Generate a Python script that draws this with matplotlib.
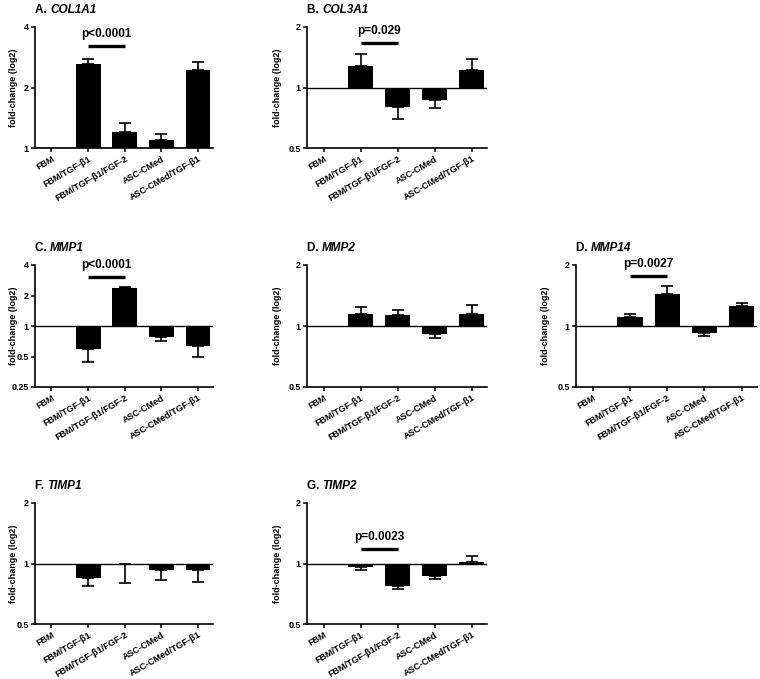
import matplotlib
matplotlib.use("Agg")
import matplotlib.pyplot as plt
from matplotlib.ticker import FixedLocator, FixedFormatter, NullLocator

plt.rcParams['font.family'] = ['Liberation Sans', 'DejaVu Sans']
plt.rcParams['font.weight'] = 'bold'

categories = ["FBM", "FBM/TGF-β1", "FBM/TGF-β1/FGF-2", "ASC-CMed", "ASC-CMed/TGF-β1"]

# mean fold-change values (linear, plotted on log2 axis)
col1a1 = [1.0, 2.63, 1.20, 1.09, 2.45]
col1a1_err = [1.0, 2.77, 1.33, 1.17, 2.69]
col3a1 = [1.0, 1.28, 0.80, 0.87, 1.22]
col3a1_err = [1.0, 1.46, 0.70, 0.79, 1.38]
mmp1 = [1.0, 0.59, 2.36, 0.78, 0.63]
mmp1_err = [1.0, 0.44, 2.40, 0.71, 0.50]
mmp2 = [1.0, 1.15, 1.13, 0.91, 1.15]
mmp2_err = [1.0, 1.24, 1.20, 0.87, 1.27]
mmp14 = [1.0, 1.11, 1.44, 0.92, 1.26]
mmp14_err = [1.0, 1.15, 1.57, 0.89, 1.30]
timp1 = [1.0, 0.85, 0.99, 0.93, 0.93]
timp1_err = [1.0, 0.77, 0.80, 0.83, 0.81]
timp2 = [1.0, 0.96, 0.77, 0.865, 1.02]
timp2_err = [1.0, 0.93, 0.75, 0.84, 1.09]

panels = [
    # letter, gene, values, err ends, yticks, ytick labels, p-text, p-line y
    ("A.", "COL1A1", col1a1, col1a1_err, [1, 2, 4], ["1", "2", "4"], "p<0.0001", 3.23),
    ("B.", "COL3A1", col3a1, col3a1_err, [0.5, 1, 2], ["0.5", "1", "2"], "p=0.029", 1.67),
    ("C.", "MMP1", mmp1, mmp1_err, [0.25, 0.5, 1, 2, 4], ["0.25", "0.5", "1", "2", "4"], "p<0.0001", 3.08),
    ("D.", "MMP2", mmp2, mmp2_err, [0.5, 1, 2], ["0.5", "1", "2"], None, None),
    ("D.", "MMP14", mmp14, mmp14_err, [0.5, 1, 2], ["0.5", "1", "2"], "p=0.0027", 1.77),
    ("F.", "TIMP1", timp1, timp1_err, [0.5, 1, 2], ["0.5", "1", "2"], None, None),
    ("G.", "TIMP2", timp2, timp2_err, [0.5, 1, 2], ["0.5", "1", "2"], "p=0.0023", 1.18),
]

W, H = 760, 679
boxes = [
    (35, 27, 213, 148), (307, 27, 487, 148),
    (35, 265, 213, 387), (307, 265, 487, 387), (576, 265, 757, 387),
    (35, 503, 213, 624), (307, 503, 487, 624),
]
# horizontal pixel offset of y-label (right edge) from the y-axis
label_off = [17.5, 25.5, 17.5, 25.5, 25.5, 17.5, 25.5]

fig = plt.figure(figsize=(7.6, 6.79), dpi=100)
fig.patch.set_facecolor("white")

for (letter, gene, vals, errs, yt, ytl, ptxt, py), (x0, y0, x1, y1), lo in zip(panels, boxes, label_off):
    ax = fig.add_axes([x0 / W, 1 - y1 / H, (x1 - x0) / W, (y1 - y0) / H])
    x = list(range(len(categories)))
    heights = [v - 1.0 for v in vals]
    ax.set_yscale("log", base=2)
    ax.bar(x, heights, bottom=1.0, width=0.68, color="black", edgecolor="none", zorder=2)
    for xi, v, e in zip(x, vals, errs):
        if abs(e - v) < 1e-9:
            continue
        if e > v:
            yerr = [[0], [e - v]]
        else:
            yerr = [[v - e], [0]]
        ax.errorbar([xi], [v], yerr=yerr, fmt="none", ecolor="black",
                    elinewidth=1.2, capsize=4.5, capthick=1.2, zorder=3)
    ax.axhline(1.0, color="black", lw=1.0, zorder=4)
    ax.set_xlim(-0.45, 4.41)
    ax.set_ylim(yt[0], yt[-1])
    ax.yaxis.set_major_locator(FixedLocator(yt))
    ax.yaxis.set_major_formatter(FixedFormatter(ytl))
    ax.yaxis.set_minor_locator(NullLocator())
    ax.set_xticks(x)
    ax.set_xticklabels(categories, rotation=30, ha="right", rotation_mode="anchor",
                       fontsize=6.5, fontweight="bold")
    for lab in ax.get_yticklabels():
        lab.set_fontsize(6.5)
        lab.set_fontweight("bold")
    ax.tick_params(axis="both", direction="out", length=3, width=1.1, pad=1.5)
    for s in ["top", "right"]:
        ax.spines[s].set_visible(False)
    for s in ["left", "bottom"]:
        ax.spines[s].set_linewidth(1.2)
    ax.set_ylabel("fold-change (log2)", fontsize=6.5, fontweight="bold")
    ax.yaxis.set_label_coords(-lo / (x1 - x0), 0.5)
    t1 = ax.annotate(letter + " ", xy=(0, 1), xycoords="axes fraction",
                     xytext=(0, 8), textcoords="offset points",
                     ha="left", va="bottom", fontsize=8.5, fontweight="bold")
    ax.annotate(gene, xy=(1, 0), xycoords=t1, ha="left", va="bottom",
                fontsize=8.5, fontweight="bold", style="italic")
    if ptxt:
        ax.plot([1, 2], [py, py], color="black", lw=2.4, solid_capstyle="butt", zorder=5)
        ax.annotate(ptxt, xy=(1.5, py), xycoords="data", xytext=(0, 4),
                    textcoords="offset points", ha="center", va="bottom",
                    fontsize=8.5, fontweight="bold")
    ax.set_facecolor("white")

fig.savefig("out.png", dpi=100, facecolor="white")
